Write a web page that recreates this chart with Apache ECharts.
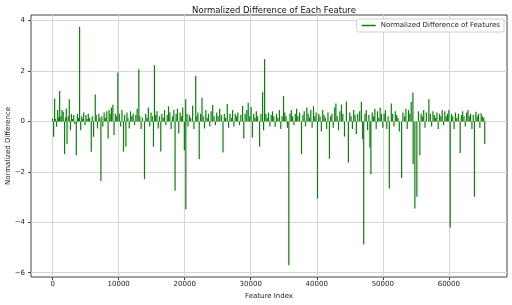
<!DOCTYPE html>
<html>
<head>
<meta charset="utf-8">
<script src="https://cdn.jsdelivr.net/npm/echarts@6/dist/echarts.min.js"></script>
<style>html,body{margin:0;padding:0;background:#fff}#c{width:512px;height:305px}</style>
</head>
<body>
<div id="c"></div>
<script>
const chartTitle = 'Normalized Difference of Each Feature';
const seriesName = 'Normalized Difference of Features';
const xLabel = 'Feature Index';
const yLabel = 'Normalized Difference';
const xTickValues = [0, 10000, 20000, 30000, 40000, 50000, 60000];
const yTickValues = [-6, -4, -2, 0, 2, 4];

const featureIndex = [
  0,150,300,450,600,760,900,1060,1250,1420,1600,1810,1950,2070,2180,2350,2520,2700,2850,3000,3200,3350,3580,3750,3900,4080,4250,4400,4550,4700,4900,5050,5200,5400,5600,5850,6000,6200,6450,6600,6800,7000,7150,7310,7450,7600,7800,8000,8200,8400,8550,8700,8900,9120,9300,9500,9700,9880,
  10100,10300,10500,10730,10900,11090,11250,11400,11600,11800,12000,12200,12400,12600,12800,13050,13200,13400,13600,13910,14100,14300,14500,14700,14900,15100,15270,15420,15600,15800,16000,16200,16380,16550,16750,16950,17150,17350,17550,17750,17950,18150,18350,18540,18700,18900,19100,19300,19500,19700,19950,20150,20170,
  20350,20500,20700,20900,21200,21400,21670,21850,22000,22200,22400,22620,22800,23000,23200,23400,23600,23800,24000,24240,24450,24650,24850,25050,25300,25550,25800,26000,26200,26450,26650,26850,27050,27250,27450,27650,27850,28050,28300,28500,28770,28950,29150,29400,29620,29850,30050,30250,30450,30650,
  30850,31050,31340,31550,31800,31950,32100,32300,32500,32700,32900,33100,33300,33500,33700,33900,34100,34350,34550,34750,34970,35150,35350,35550,35770,35950,36150,36350,36550,36750,36950,37150,37400,37690,37900,38100,38300,38500,38700,38900,39100,39300,39500,39700,39900,40110,
  40300,40500,40700,40900,41100,41300,41500,41700,41920,42100,42300,42500,42720,42900,43100,43300,43500,43740,43950,44200,44490,44790,45000,45200,45400,45600,45800,46000,46200,46500,46760,46950,47110,47300,47500,47700,47900,48050,48200,48400,48600,48800,49000,49200,49400,49600,49800,50000,
  50200,50400,50600,50800,50990,51290,51500,51700,51900,52100,52300,52500,52850,53050,53300,53500,53700,53900,54100,54300,54560,54600,54860,55160,55400,55610,55800,56000,56200,56400,56600,56980,57200,57400,57600,57800,58000,58200,58400,58600,58800,59000,59200,59400,59600,59800,60000,60210,
  60400,60600,60800,61000,61200,61450,61720,61900,62100,62300,62500,62700,62900,63100,63300,63500,63700,63880,64100,64300,64500,64700,64900,65100,65300,65440
];

const normDiff = [
  0.12,-0.61,0.91,0.1,-0.21,0.45,0.15,1.21,0.2,0.45,0.38,-1.30,0.15,0.51,-0.9,0.2,0.88,-0.35,0.29,0.1,0.25,-0.1,-1.34,0.3,0.15,3.75,-0.35,0.2,0.1,0.35,-0.15,0.25,0.1,0.3,0.15,-1.2,0.2,-0.61,1.07,0.25,-0.28,0.3,0.15,-2.36,0.2,-0.2,0.35,0.15,0.4,-0.68,0.45,0.3,0.55,0.66,-0.54,0.3,0.2,1.94,
  0.3,-0.2,0.45,-1.2,0.25,-1.0,0.35,0.15,-0.28,0.4,0.2,0.3,-0.15,0.25,0.5,2.07,0.2,-0.3,0.15,-2.29,0.3,0.15,0.55,-0.2,0.35,0.2,-1.0,2.23,0.25,0.4,-0.28,0.2,-1.19,0.3,0.15,0.45,-0.15,0.25,0.6,0.35,-0.3,0.2,0.45,-2.75,0.3,0.5,-0.48,0.35,0.2,0.55,-1.14,0.88,-3.48,
  0.3,-0.2,0.25,0.15,0.62,-0.3,1.81,0.2,0.35,-1.5,0.3,0.94,0.2,-0.28,0.45,0.15,0.3,-0.2,0.4,0.65,0.2,-0.15,0.35,0.2,0.5,0.25,-1.23,0.3,0.15,0.69,-0.25,0.3,0.15,0.45,-0.2,0.3,0.2,0.35,-0.15,0.25,0.61,-0.68,0.3,0.45,0.74,0.2,0.57,-0.64,0.3,0.15,
  0.4,0.2,-1.0,0.3,1.16,-0.35,2.47,0.3,0.15,0.35,-0.2,0.25,0.4,0.2,-0.21,0.3,0.15,0.45,-0.3,0.2,1.0,0.35,0.2,-0.25,-5.70,0.3,0.45,0.2,-0.15,0.3,0.5,0.2,0.35,-1.3,0.25,0.4,-0.2,0.55,0.3,0.15,0.45,-0.25,0.6,0.2,0.35,-3.06,
  0.3,0.2,-0.4,0.45,0.25,0.15,-0.3,0.35,-1.48,0.2,0.3,-0.25,0.55,0.71,0.2,-0.35,0.4,0.67,0.3,-0.6,0.79,-1.63,0.35,0.2,-0.3,0.45,0.25,-0.5,0.3,0.4,0.78,-0.7,-4.88,0.3,0.45,-0.35,0.25,-1.03,-2.1,0.35,0.2,0.5,-0.3,0.4,0.15,0.55,0.3,-0.25,
  0.3,0.45,-0.3,0.2,-2.66,0.71,0.3,-0.2,0.4,0.25,0.15,-0.4,-2.24,0.35,0.2,0.5,-0.3,0.45,0.3,0.78,1.15,-1.69,-3.45,-2.99,0.4,-1.34,0.3,0.2,0.45,-0.25,0.35,0.88,0.3,-0.2,0.4,0.25,0.15,0.35,-0.3,0.3,0.2,0.45,-0.15,0.4,0.2,0.3,0.45,-4.21,
  0.3,0.2,-0.3,0.35,0.15,0.3,-1.25,0.25,0.4,0.2,-0.2,0.35,0.45,0.2,0.3,-0.3,0.25,-2.99,0.38,0.2,0.3,-0.25,0.32,0.2,0.15,-0.9
];

const xRange = [-3277, 68812];
const yRange = [-6.17, 4.22];

const font = 'DejaVu Sans, Liberation Sans, sans-serif';
const minusFmt = v => String(Math.round(v)).replace('-', '\u2212');

const chart = echarts.init(document.getElementById('c'), null, {renderer: 'canvas'});
chart.setOption({
  animation: false,
  backgroundColor: '#fff',
  title: {
    text: chartTitle, left: 269, top: 1, textAlign: 'center',
    textStyle: {fontFamily: font, fontSize: 8.5, fontWeight: 'normal', color: '#111'}
  },
  legend: {
    data: [{name: seriesName, icon: 'rect'}],
    right: 8, top: 19, itemWidth: 14, itemHeight: 1.5, itemGap: 4,
    padding: [3, 4, 3, 5],
    borderColor: '#cfcfcf', borderWidth: 1, borderRadius: 2, backgroundColor: '#fff',
    textStyle: {fontFamily: font, fontSize: 7, color: '#222'}
  },
  grid: {left: 31, right: 5, top: 15, bottom: 28, show: true, borderColor: '#444', borderWidth: 1, containLabel: false, outerBoundsMode: 'none'},
  xAxis: {
    type: 'value', min: xRange[0], max: xRange[1], splitNumber: 7,
    name: xLabel, nameLocation: 'middle', nameGap: 16, nameMoveOverlap: false,
    nameTextStyle: {fontFamily: font, fontSize: 7, color: '#222'},
    axisLine: {show: false, onZero: false},
    axisTick: {show: true, length: 3, customValues: xTickValues, lineStyle: {color: '#444'}},
    axisLabel: {fontFamily: font, fontSize: 7, color: '#222', margin: 4, customValues: xTickValues, formatter: minusFmt},
    splitLine: {show: true, lineStyle: {color: '#d6d6d6', width: 1}}
  },
  yAxis: {
    type: 'value', min: yRange[0], max: yRange[1], splitNumber: 5,
    name: yLabel, nameLocation: 'middle', nameGap: 19, nameMoveOverlap: false,
    nameTextStyle: {fontFamily: font, fontSize: 7, color: '#222'},
    axisLine: {show: false, onZero: false},
    axisTick: {show: true, length: 3, customValues: yTickValues, lineStyle: {color: '#444'}},
    axisLabel: {fontFamily: font, fontSize: 7, color: '#222', margin: 6, customValues: yTickValues, formatter: minusFmt},
    splitLine: {show: true, lineStyle: {color: '#d6d6d6', width: 1}}
  },
  series: [{
    name: seriesName, type: 'bar', barWidth: 1.2,
    itemStyle: {color: '#0a800a'},
    data: featureIndex.map((x, i) => [x, normDiff[i]])
  }]
});
</script>
</body>
</html>
